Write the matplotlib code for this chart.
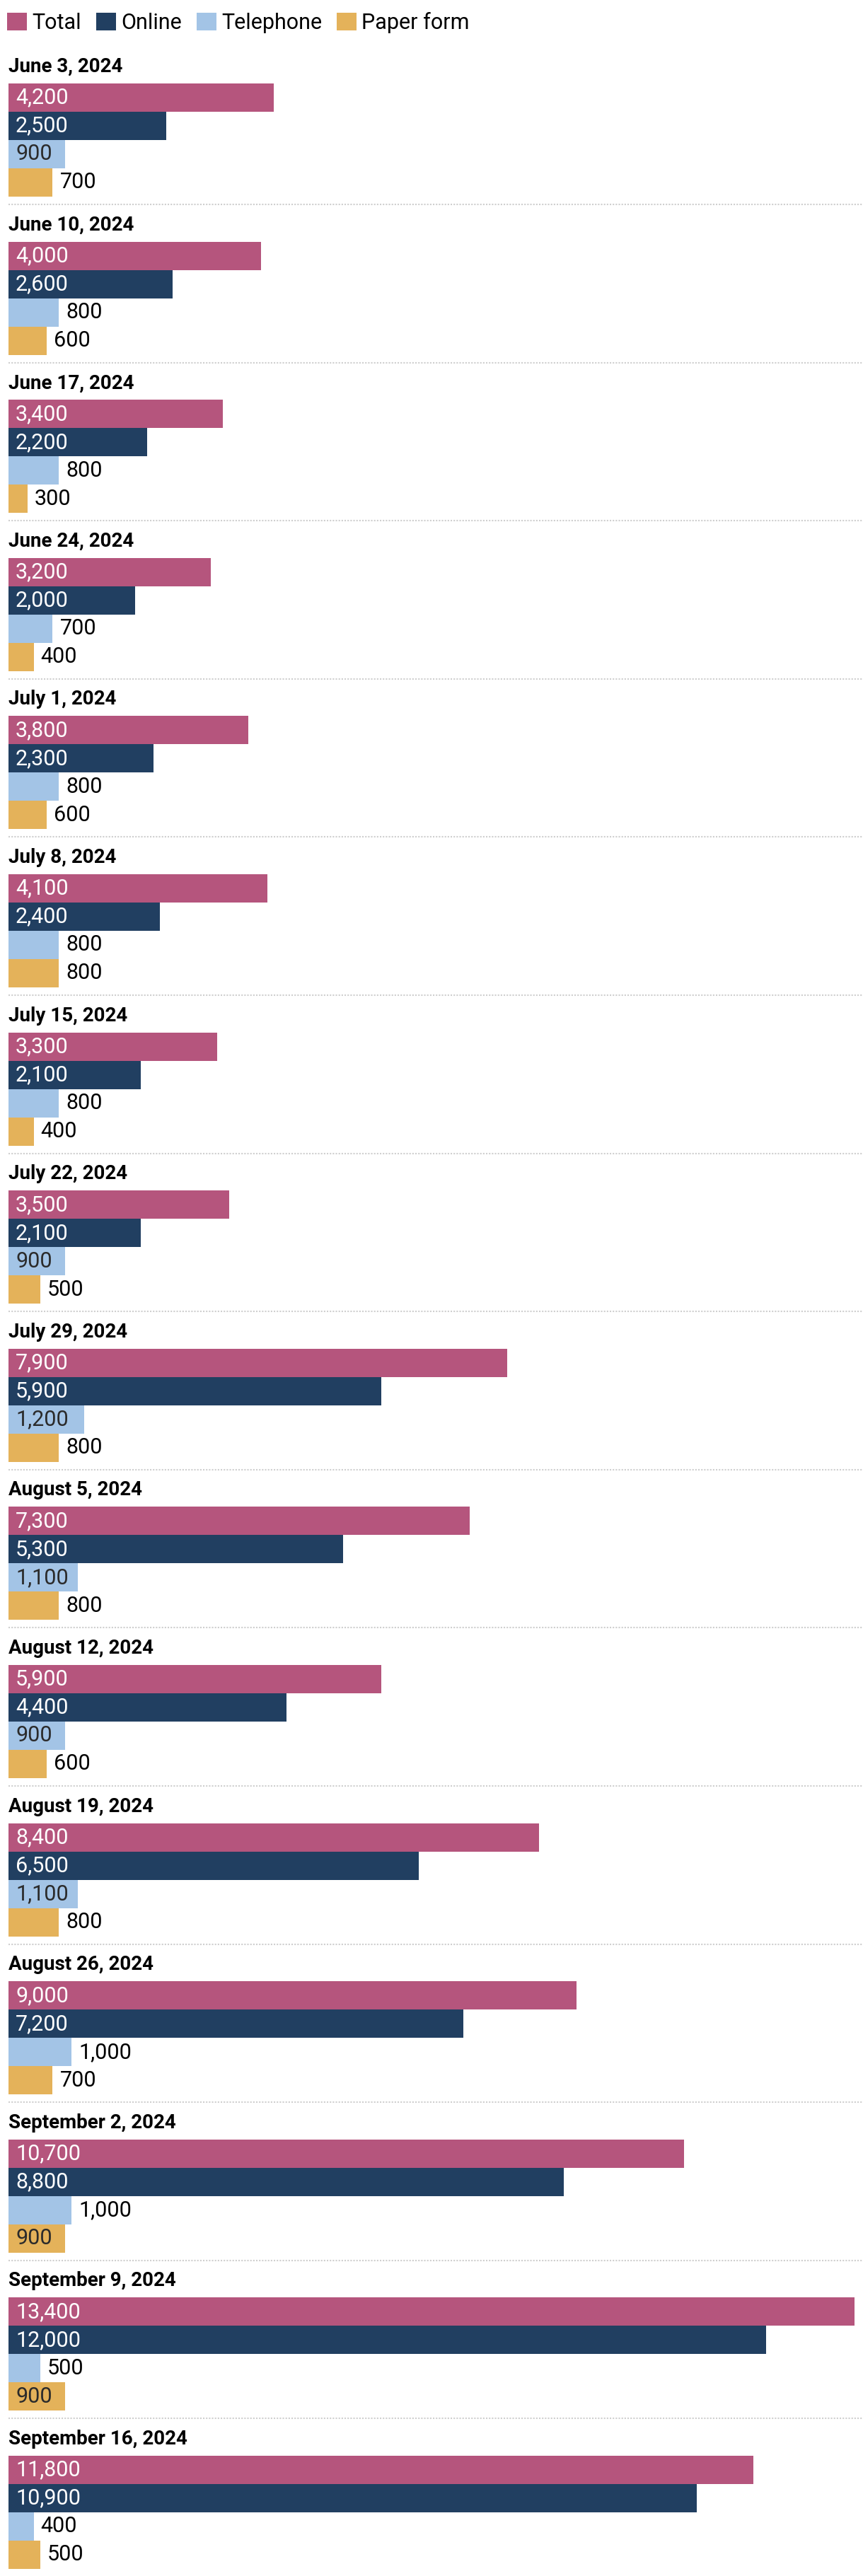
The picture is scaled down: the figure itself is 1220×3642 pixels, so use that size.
import matplotlib
matplotlib.use('Agg')
import matplotlib.pyplot as plt
from matplotlib.patches import Patch

weeks = ['June 3, 2024', 'June 10, 2024', 'June 17, 2024', 'June 24, 2024',
         'July 1, 2024', 'July 8, 2024', 'July 15, 2024', 'July 22, 2024',
         'July 29, 2024', 'August 5, 2024', 'August 12, 2024', 'August 19, 2024',
         'August 26, 2024', 'September 2, 2024', 'September 9, 2024', 'September 16, 2024']
total = [4200, 4000, 3400, 3200, 3800, 4100, 3300, 3500, 7900, 7300, 5900, 8400, 9000, 10700, 13400, 11800]
online = [2500, 2600, 2200, 2000, 2300, 2400, 2100, 2100, 5900, 5300, 4400, 6500, 7200, 8800, 12000, 10900]
telephone = [900, 800, 800, 700, 800, 800, 800, 900, 1200, 1100, 900, 1100, 1000, 1000, 500, 400]
paper = [700, 600, 300, 400, 600, 800, 400, 500, 800, 800, 600, 800, 700, 900, 900, 500]

series = ['Total', 'Online', 'Telephone', 'Paper form']
colors = ['#b5557d', '#213f61', '#a3c4e6', '#e4b25a']
inside_colors = ['white', 'white', '#2b2b2b', '#2b2b2b']

plt.rcParams['font.family'] = ['Roboto', 'DejaVu Sans']

W, H = 1220, 3642
fig = plt.figure(figsize=(W / 100, H / 100), dpi=100)

# layout in pixels
left = 12
plot_w = 1196
first_top = 118
step = 223.6
bar_h = 40

labels = []
for i, week in enumerate(weeks):
    top = first_top + step * i
    ax = fig.add_axes([left / W, 1 - (top + 4 * bar_h) / H, plot_w / W, 4 * bar_h / H])
    vals = [total[i], online[i], telephone[i], paper[i]]
    ax.barh(range(4), vals, height=1.0, color=colors)
    ax.set_xlim(0, 13400)
    ax.set_ylim(3.5, -0.5)
    ax.axis('off')

    # week header
    ax.annotate(week, xy=(0, 1), xycoords='axes fraction', xytext=(0, 16 * 0.72),
                textcoords='offset points', fontsize=20, fontweight='bold',
                va='baseline', ha='left', color='black')

    # dotted separator under the group
    if i < len(weeks) - 1:
        ax.axhline(3.5 + 11 / bar_h, xmin=0, xmax=(W - left) / plot_w, color='#cfcfcf',
                   linewidth=1.5, linestyle=(0, (1, 1)), clip_on=False)

    for j, v in enumerate(vals):
        t = ax.annotate(f'{v:,}', xy=(0, j), xytext=(7.2, 0), textcoords='offset points',
                        va='center', ha='left', fontsize=22, color=inside_colors[j])
        labels.append((ax, t, v, j))

handles = [Patch(facecolor=c, label=s) for s, c in zip(series, colors)]
fig.legend(handles=handles, loc='upper left', bbox_to_anchor=(10 / W, 1 - 17 / H),
           ncol=4, frameon=False, fontsize=22, handlelength=0.92, handleheight=0.92,
           handletextpad=0.23, columnspacing=0.69, borderaxespad=0, borderpad=0)

# move labels outside when they don't fit in the bar
fig.canvas.draw()
r = fig.canvas.get_renderer()
for ax, t, v, j in labels:
    tw = t.get_window_extent(r).width
    bw = ax.transData.transform((v, 0))[0] - ax.transData.transform((0, 0))[0]
    if bw < tw + 20:
        t.xy = (v, j)
        t.set_color('black')

fig.savefig('out.png', dpi=100)
